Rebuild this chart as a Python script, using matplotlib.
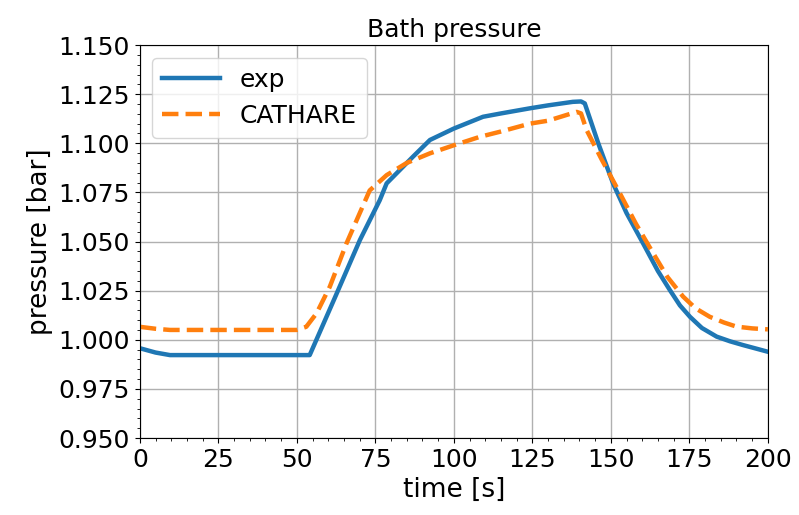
import numpy as np
import matplotlib.pyplot as plt
from matplotlib.ticker import MultipleLocator

# --- Data ---
exp_t = [0, 5, 9.6, 20, 40, 54.1, 62, 70.1, 76.4, 78.6, 80.7, 87, 92.4, 100,
         109.3, 115, 124.2, 130, 137.9, 140.5, 141.7, 146, 150.7, 155, 160.3,
         165, 168.8, 172, 175.2, 179, 183.7, 188, 192.1, 200]
exp_p = [0.9957, 0.9935, 0.9922, 0.9922, 0.9922, 0.9922, 1.021, 1.0508,
         1.071, 1.0796, 1.083, 1.0932, 1.1017, 1.1075, 1.1135, 1.1152, 1.1178,
         1.1193, 1.1211, 1.1213, 1.1203, 1.100, 1.0796, 1.0645, 1.049, 1.035,
         1.0253, 1.0175, 1.0117, 1.006, 1.0016, 0.9992, 0.9973, 0.9939]

cat_t = [0, 5, 9.6, 20, 40, 49.9, 53, 56.3, 60.5, 65.8, 73.2, 78.6, 85, 92.4,
         100, 108.3, 115, 124.2, 130, 139.1, 140.5, 142.3, 147, 152.9, 158,
         163.5, 168, 173, 177, 181.5, 186, 190, 195, 200]
cat_p = [1.0066, 1.0056, 1.005, 1.005, 1.005, 1.005, 1.0066, 1.0135, 1.027,
         1.049, 1.076, 1.0838, 1.090, 1.0949, 1.099, 1.1033, 1.106, 1.110,
         1.1115, 1.116, 1.1152, 1.1067, 1.092, 1.0745, 1.059, 1.044, 1.032,
         1.022, 1.016, 1.0117, 1.0088, 1.0067, 1.0058, 1.0053]

fig = plt.figure(figsize=(7.99, 5.15), dpi=100)
ax = fig.add_axes([0.175, 0.1495, 0.786, 0.763])

ax.plot(exp_t, exp_p, color="tab:blue", lw=3.2, label="exp")
ax.plot(cat_t, cat_p, color="tab:orange", lw=3.2, ls="--", label="CATHARE")

ax.set_xlim(0, 200)
ax.set_ylim(0.95, 1.15)
ax.xaxis.set_major_locator(MultipleLocator(25))
ax.xaxis.set_minor_locator(MultipleLocator(5))
ax.yaxis.set_major_locator(MultipleLocator(0.025))
ax.yaxis.set_minor_locator(MultipleLocator(0.005))
ax.yaxis.set_major_formatter(plt.FormatStrFormatter("%.3f"))
ax.tick_params(labelsize=18)
ax.grid(True, which="major", color="#b0b0b0", lw=1)

ax.set_title("Bath pressure", fontsize=18)
ax.set_xlabel("time [s]", fontsize=19)
ax.set_ylabel("pressure [bar]", fontsize=19)
ax.legend(loc="upper left", fontsize=18, handlelength=2.3)

plt.savefig("out.png")
plt.close()
